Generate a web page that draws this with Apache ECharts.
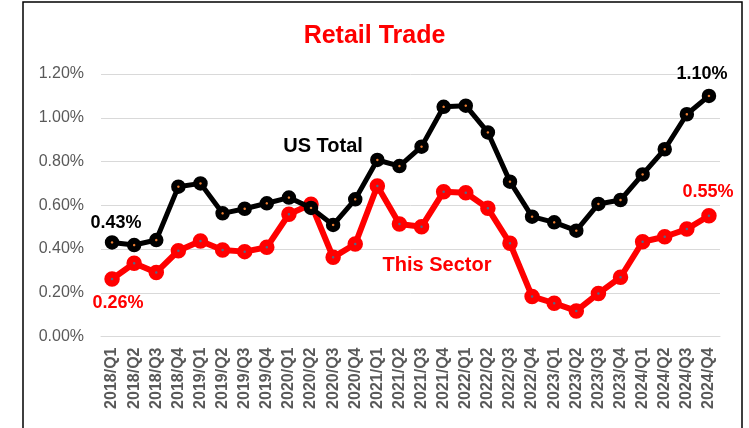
<!DOCTYPE html>
<html>
<head>
<meta charset="utf-8">
<script src="https://cdn.jsdelivr.net/npm/echarts@6/dist/echarts.min.js"></script>
<style>html,body{margin:0;padding:0;background:#fff}#c{width:749px;height:428px}</style>
</head>
<body>
<div id="c"></div>
<script>
const categories = ['2018/Q1','2018/Q2','2018/Q3','2018/Q4','2019/Q1','2019/Q2','2019/Q3','2019/Q4',
  '2020/Q1','2020/Q2','2020/Q3','2020/Q4','2021/Q1','2021/Q2','2021/Q3','2021/Q4',
  '2022/Q1','2022/Q2','2022/Q3','2022/Q4','2023/Q1','2023/Q2','2023/Q3','2023/Q4',
  '2024/Q1','2024/Q2','2024/Q3','2024/Q4'];
const usTotal = [0.43,0.418,0.441,0.685,0.70,0.563,0.584,0.609,
  0.635,0.588,0.51,0.627,0.807,0.779,0.868,1.05,
  1.055,0.933,0.708,0.548,0.522,0.484,0.606,0.624,
  0.741,0.856,1.016,1.10];
const thisSector = [0.263,0.335,0.293,0.392,0.437,0.395,0.388,0.408,
  0.559,0.605,0.362,0.423,0.688,0.514,0.502,0.662,
  0.657,0.586,0.426,0.183,0.152,0.117,0.197,0.271,
  0.433,0.456,0.491,0.552];
const yTicks = {min:0, max:1.2, interval:0.2};

const chart = echarts.init(document.getElementById('c'));
const pct = v => v.toFixed(2) + '%';
function withEndLabels(arr, color, firstPos, firstOff, lastPos, lastOff) {
  const last = arr.length - 1;
  return arr.map((v, i) => {
    if (i === 0 || i === last) {
      return {value: v, label: {show: true, position: i === 0 ? firstPos : lastPos,
        offset: i === 0 ? firstOff : lastOff, formatter: p => pct(p.value),
        color: color, fontSize: 18, fontWeight: 'bold', fontFamily: 'Liberation Sans'}};
    }
    return v;
  });
}
chart.setOption({
  animation: false,
  backgroundColor: '#fff',
  title: {text: 'Retail Trade', left: 'center', top: 19,
    textStyle: {color: '#ff0000', fontSize: 25, fontWeight: 'bold', fontFamily: 'Liberation Sans'}},
  grid: {left: 101, right: 29, top: 74, bottom: 91.5},
  xAxis: {type: 'category', data: categories, boundaryGap: true,
    axisLine: {show: true, lineStyle: {color: '#d9d9d9', width: 1}},
    axisTick: {show: false},
    axisLabel: {rotate: 90, interval: 0, color: '#595959', fontSize: 16, fontWeight: 'bold',
      fontFamily: 'Liberation Sans', margin: 11}},
  yAxis: {type: 'value', min: yTicks.min, max: yTicks.max, interval: yTicks.interval,
    axisLine: {show: false}, axisTick: {show: false},
    splitLine: {lineStyle: {color: '#d9d9d9', width: 1}},
    axisLabel: {formatter: v => pct(v), color: '#595959', fontSize: 16,
      fontFamily: 'Liberation Sans', margin: 17}},
  series: [
    {name: 'This Sector', type: 'line', data: withEndLabels(thisSector, '#ff0000', 'bottom', [6, 2], 'top', [-1, -2]),
      lineStyle: {color: '#ff0000', width: 6}, symbol: 'circle', symbolSize: 9,
      itemStyle: {color: '#4f6a8a', borderColor: '#ff0000', borderWidth: 6.5}, z: 2},
    {name: 'US Total', type: 'line', data: withEndLabels(usTotal, '#000000', 'top', [4, 2], 'top', [-7, -1]),
      lineStyle: {color: '#000000', width: 5}, symbol: 'circle', symbolSize: 8.5,
      itemStyle: {color: '#ed7d31', borderColor: '#000000', borderWidth: 6}, z: 3}
  ],
  graphic: [
    {type: 'rect', shape: {x: 23, y: 2, width: 719, height: 460}, style: {fill: 'none', stroke: '#000', lineWidth: 1.5}, silent: true},
    {type: 'text', x: 323, y: 146, style: {text: 'US Total', fill: '#000', fontSize: 20, fontWeight: 'bold',
      fontFamily: 'Liberation Sans', align: 'center', verticalAlign: 'middle'}},
    {type: 'text', x: 437, y: 265, style: {text: 'This Sector', fill: '#ff0000', fontSize: 20, fontWeight: 'bold',
      fontFamily: 'Liberation Sans', align: 'center', verticalAlign: 'middle'}}
  ]
});
</script>
</body>
</html>
